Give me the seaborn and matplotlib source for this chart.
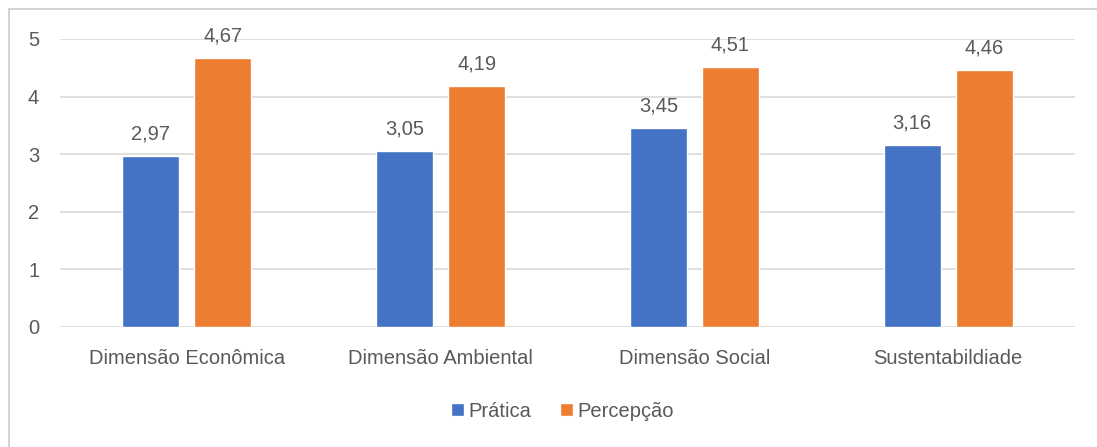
import pandas as pd
import matplotlib.pyplot as plt
import seaborn as sns
from matplotlib.lines import Line2D

# Data
categorias = ["Dimensão Econômica", "Dimensão Ambiental", "Dimensão Social", "Sustentabildiade"]
pratica = [2.97, 3.05, 3.45, 3.16]
percepcao = [4.67, 4.19, 4.51, 4.46]
series = ["Prática", "Percepção"]

df = pd.DataFrame({
    "Categoria": categorias * 2,
    "Serie": [series[0]] * 4 + [series[1]] * 4,
    "Valor": pratica + percepcao,
})

sns.set_theme(style="white")
plt.rcParams['font.family'] = ['Liberation Sans', 'DejaVu Sans']

TEXT = "#595959"
PALETTE = {"Prática": "#4472C4", "Percepção": "#ED7D31"}
FS = 14.5

fig = plt.figure(figsize=(10.97, 4.47), dpi=100)
ax = fig.add_axes([0.0547, 0.2685, 0.9253, 0.6443])

sns.barplot(data=df, x="Categoria", y="Valor", hue="Serie", hue_order=series,
            palette=PALETTE, width=0.567, gap=0.208, ax=ax, zorder=3,
            saturation=1, legend=True)

for cont in ax.containers:
    labels = [f"{v:.2f}".replace(".", ",") for v in cont.datavalues]
    ax.bar_label(cont, labels=labels, padding=9, fontsize=FS, color=TEXT)

ax.set_ylim(0, 5)
ax.set_xlim(-0.5, 3.5)
ax.set_yticks(range(6))
ax.yaxis.grid(True, color="#d9d9d9", linewidth=1.2, zorder=0)
ax.set_xlabel("")
ax.set_ylabel("")
for s in ax.spines.values():
    s.set_visible(False)
ax.tick_params(axis="both", length=0, labelsize=FS, colors=TEXT)
ax.tick_params(axis="y", pad=15)
ax.tick_params(axis="x", pad=16)

leg = ax.legend(loc="center", bbox_to_anchor=(0.495, -0.292), ncol=2, frameon=False,
                fontsize=FS, handlelength=0.65, handleheight=0.65, handletextpad=0.25,
                columnspacing=1.4)
for t in leg.get_texts():
    t.set_color(TEXT)

# chart frame: only the top and left edges show in the cropped screenshot
x0, y0 = 8.5 / 1097, 1 - 9 / 447
fig.add_artist(Line2D([x0, 1], [y0, y0], transform=fig.transFigure, color="#d0d0d0", linewidth=1.3))
fig.add_artist(Line2D([x0, x0], [0, y0], transform=fig.transFigure, color="#d0d0d0", linewidth=1.3))

plt.savefig("out.png", dpi=100)
